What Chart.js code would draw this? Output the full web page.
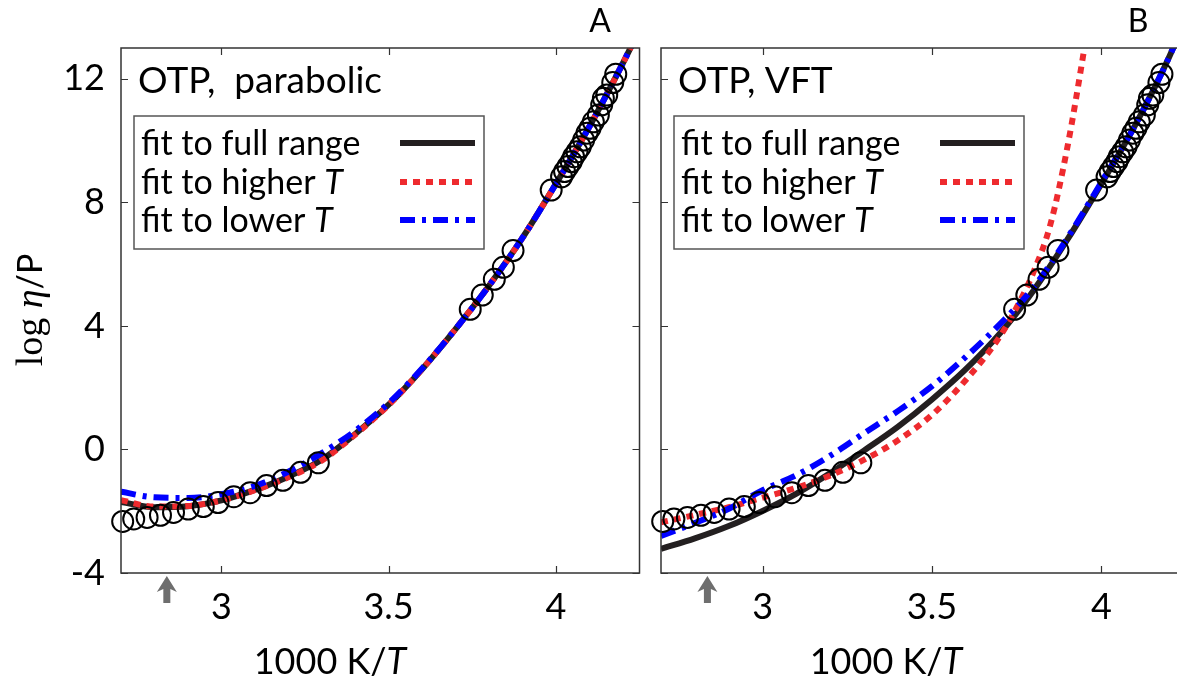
<!DOCTYPE html>
<html>
<head>
<meta charset="utf-8">
<script src="https://cdn.jsdelivr.net/npm/chart.js@4.4.0/dist/chart.umd.min.js"></script>
<style>
  html, body { margin: 0; padding: 0; background: #fff; overflow: hidden; width: 1177px; height: 684px; }
  #wrapA { position: absolute; left: 0; top: 0; width: 652px; height: 684px; }
  #wrapB { position: absolute; left: 640px; top: 0; width: 560px; height: 684px; }
</style>
</head>
<body>
<div id="wrapA"><canvas id="chartA" width="652" height="684"></canvas></div>
<div id="wrapB"><canvas id="chartB" width="560" height="684"></canvas></div>
<script>
// Axis ranges
const xMin = 2.7, xMax = 4.25, yMin = -4, yMax = 13;
const xStep = 0.5, yStep = 4;
const arrowX = 2.837;   // grey arrow under the x axis

// OTP viscosity data (1000 K / T, log eta), same in both panels
const dataX = [2.705, 2.738, 2.778, 2.818, 2.857, 2.901, 2.946, 2.99, 3.037, 3.086, 3.135, 3.184, 3.237, 3.29,
  3.744, 3.78, 3.816, 3.843, 3.872,
  3.986, 4.017, 4.026, 4.036, 4.046, 4.053, 4.063, 4.073, 4.083, 4.093, 4.102, 4.112, 4.127, 4.137, 4.142, 4.152, 4.17, 4.179];
const dataY = [-2.33, -2.25, -2.2, -2.13, -2.04, -1.93, -1.85, -1.72, -1.53, -1.4, -1.17, -1.0, -0.74, -0.43,
  4.54, 5.0, 5.51, 5.9, 6.44,
  8.4, 8.83, 9.0, 9.16, 9.32, 9.48, 9.64, 9.8, 10.02, 10.24, 10.4, 10.61, 10.83, 11.16, 11.37, 11.48, 11.88, 12.15];

// fitted curves
const fitX = [2.7, 2.8, 2.9, 3.0, 3.1, 3.2, 3.3, 3.4, 3.5, 3.6, 3.7, 3.8, 3.9, 4.0, 4.1, 4.2, 4.25];

// panel A: parabolic
const parFullY = [-1.70, -1.87, -1.84, -1.65, -1.31, -0.88, -0.33, 0.5, 1.45, 2.6, 3.9, 5.3, 6.85, 8.6, 10.45, 12.5, 13.6];
const parHighY = [-1.64, -1.85, -1.83, -1.65, -1.32, -0.9, -0.36, 0.48, 1.44, 2.6, 3.9, 5.3, 6.85, 8.6, 10.45, 12.5, 13.6];
const parLowY  = [-1.37, -1.55, -1.57, -1.45, -1.18, -0.72, -0.12, 0.6, 1.5, 2.62, 3.9, 5.3, 6.85, 8.6, 10.45, 12.5, 13.6];

// panel B: VFT
const vftFullY = [-3.22, -2.88, -2.48, -1.99, -1.43, -0.76, -0.03, 0.74, 1.62, 2.6, 3.75, 5.15, 6.8, 8.6, 10.5, 12.7, 14.0];
const vftLowY  = [-2.8, -2.38, -1.92, -1.32, -0.83, -0.2, 0.53, 1.25, 2.05, 3.0, 4.05, 5.25, 6.85, 8.65, 10.5, 12.7, 14.0];
const vftHighX = [2.7, 2.8, 2.9, 3.0, 3.1, 3.2, 3.3, 3.4, 3.5, 3.6, 3.7, 3.75, 3.8, 3.85, 3.9, 3.95, 3.97];
const vftHighY = [-2.36, -2.12, -1.87, -1.56, -1.24, -0.84, -0.33, 0.3, 1.12, 2.25, 3.65, 4.6, 5.75, 7.3, 9.8, 13.0, 14.4];

const labels = ['fit to full range', 'fit to higher T', 'fit to lower T'];
const colors = ['#231f20', '#ee2a2e', '#0000ff'];
const dashes = [[], [7, 6], [15, 7, 4, 7]];

const FONT = 'Lato';

function curve(i, xs, ys) {
  return {
    label: labels[i],
    data: xs.map((x, k) => ({ x: x, y: ys[k] })),
    borderColor: colors[i],
    borderWidth: 6,
    borderDash: dashes[i],
    pointRadius: 0,
    fill: false,
    cubicInterpolationMode: 'monotone',
    clip: 0,
    order: 3 - i
  };
}

function points() {
  return {
    label: 'OTP data',
    data: dataX.map((x, k) => ({ x: x, y: dataY[k] })),
    showLine: false,
    pointRadius: 10.5,
    pointBorderWidth: 2,
    pointBorderColor: '#000',
    pointBackgroundColor: 'rgba(0,0,0,0)',
    clip: false,
    order: 0
  };
}

// draws a string whose trailing " T" is italic
function drawMixed(ctx, text, x, y, size) {
  let main = text, ital = '';
  if (text.endsWith(' T')) { main = text.slice(0, -1); ital = 'T'; }
  ctx.font = size + 'px ' + FONT;
  ctx.fillText(main, x, y);
  const w = ctx.measureText(main).width;
  if (ital) {
    ctx.font = 'italic ' + size + 'px ' + FONT;
    ctx.fillText(ital, x + w, y);
  }
}

const panelPlugin = {
  id: 'panel',
  afterDatasetsDraw(chart, args, o) {
    const ctx = chart.ctx, a = chart.chartArea;
    const xs = chart.scales.x, ys = chart.scales.y;
    ctx.save();

    // frame
    ctx.strokeStyle = '#333';
    ctx.lineWidth = 1.5;
    ctx.setLineDash([]);
    ctx.strokeRect(a.left, a.top, a.right - a.left, a.bottom - a.top);

    // inward tick marks on all four sides
    ctx.lineWidth = 1.2;
    ctx.beginPath();
    xs.ticks.forEach(t => {
      const px = Math.round(xs.getPixelForValue(t.value)) + 0.5;
      ctx.moveTo(px, a.bottom); ctx.lineTo(px, a.bottom - 7);
      ctx.moveTo(px, a.top); ctx.lineTo(px, a.top + 7);
    });
    ys.ticks.forEach(t => {
      const py = Math.round(ys.getPixelForValue(t.value)) + 0.5;
      ctx.moveTo(a.left, py); ctx.lineTo(a.left + 7, py);
      ctx.moveTo(a.right, py); ctx.lineTo(a.right - 7, py);
    });
    ctx.stroke();

    // panel title
    ctx.fillStyle = '#000';
    ctx.textBaseline = 'alphabetic';
    ctx.textAlign = 'left';
    ctx.font = '37px ' + FONT;
    ctx.fillText(o.title, a.left + 17, 93);

    // legend box
    const bx = a.left + 13, by = 116, bw = 350, bh = 133;
    ctx.fillStyle = '#fff';
    ctx.fillRect(bx, by, bw, bh);
    ctx.strokeStyle = '#555';
    ctx.lineWidth = 1.5;
    ctx.strokeRect(bx, by, bw, bh);
    const rows = [143, 182, 220];
    const entries = chart.data.datasets.filter(ds => ds.showLine !== false);
    entries.forEach((ds, i) => {
      ctx.fillStyle = '#000';
      ctx.textBaseline = 'middle';
      drawMixed(ctx, ds.label, bx + 7, rows[i] + 1, 34);
      ctx.strokeStyle = ds.borderColor;
      ctx.lineWidth = ds.borderWidth;
      ctx.setLineDash(ds.borderDash);
      ctx.beginPath();
      ctx.moveTo(bx + 266, rows[i]);
      ctx.lineTo(bx + 341, rows[i]);
      ctx.stroke();
    });
    ctx.setLineDash([]);

    // grey arrow under the axis
    const ax = xs.getPixelForValue(arrowX);
    ctx.fillStyle = '#6e6e6e';
    ctx.beginPath();
    ctx.moveTo(ax, a.bottom + 3);
    ctx.lineTo(ax + 10, a.bottom + 19);
    ctx.lineTo(ax + 3.5, a.bottom + 16);
    ctx.lineTo(ax + 3.5, a.bottom + 30);
    ctx.lineTo(ax - 3.5, a.bottom + 30);
    ctx.lineTo(ax - 3.5, a.bottom + 16);
    ctx.lineTo(ax - 10, a.bottom + 19);
    ctx.closePath();
    ctx.fill();

    // panel letter
    ctx.fillStyle = '#000';
    ctx.textAlign = 'center';
    ctx.textBaseline = 'alphabetic';
    ctx.font = '32px ' + FONT;
    ctx.fillText(o.letter, o.letterX, 32);

    // x axis title: 1000 K/T
    ctx.font = '36px ' + FONT;
    const p1 = '1000 K/';
    const w1 = ctx.measureText(p1).width;
    ctx.font = 'italic 36px ' + FONT;
    const w2 = ctx.measureText('T').width;
    let sx = o.xTitleX - (w1 + w2) / 2;
    ctx.textAlign = 'left';
    ctx.font = '36px ' + FONT;
    ctx.fillText(p1, sx, 674);
    ctx.font = 'italic 36px ' + FONT;
    ctx.fillText('T', sx + w1, 674);

    // y axis title: log eta / P
    if (o.yTitle) {
      ctx.translate(42, 310);
      ctx.rotate(-Math.PI / 2);
      const parts = [
        ['log ', '38px "Liberation Serif"'],
        ['\u03b7', 'italic 38px "Liberation Serif"'],
        ['/P', '34px ' + FONT]
      ];
      let total = 0;
      parts.forEach(p => { ctx.font = p[1]; total += ctx.measureText(p[0]).width; });
      let cx = -total / 2;
      ctx.textBaseline = 'alphabetic';
      parts.forEach(p => {
        ctx.font = p[1];
        ctx.fillText(p[0], cx, 0);
        cx += ctx.measureText(p[0]).width;
      });
    }
    ctx.restore();
  }
};

function makeChart(id, datasets, o) {
  return new Chart(document.getElementById(id), {
    type: 'line',
    data: { datasets: datasets },
    options: {
      responsive: false,
      animation: false,
      events: [],
      layout: { padding: { left: 0, top: 48, right: o.padRight, bottom: 0 } },
      plugins: { legend: { display: false }, tooltip: { enabled: false }, panel: o },
      scales: {
        x: {
          type: 'linear', min: xMin, max: xMax,
          grid: { display: false, drawTicks: false },
          border: { display: false },
          ticks: { stepSize: xStep, includeBounds: false, maxRotation: 0, autoSkip: false,
                   padding: 13, color: '#000', font: { family: FONT, size: 36 },
                   callback: v => String(v) },
          afterFit(s) { s.height = 111; }
        },
        y: {
          type: 'linear', min: yMin, max: yMax,
          grid: { display: false, drawTicks: false },
          border: { display: false },
          ticks: { display: o.yTicks, stepSize: yStep, includeBounds: false,
                   padding: 16, color: '#000', font: { family: FONT, size: 36 },
                   callback: v => String(v) },
          afterFit(s) { s.width = o.yWidth; }
        }
      }
    },
    plugins: [panelPlugin]
  });
}

makeChart('chartA', [
  curve(0, fitX, parFullY),
  curve(1, fitX, parHighY),
  curve(2, fitX, parLowY),
  points()
], { title: 'OTP,  parabolic', letter: 'A', letterX: 600, xTitleX: 330, yTitle: true,
     yTicks: true, yWidth: 121, padRight: 6 });

makeChart('chartB', [
  curve(0, fitX, vftFullY),
  curve(1, vftHighX, vftHighY),
  curve(2, fitX, vftLowY),
  points()
], { title: 'OTP, VFT', letter: 'B', letterX: 498, xTitleX: 246, yTitle: false,
     yTicks: false, yWidth: 21, padRight: 14 });
</script>
</body>
</html>
